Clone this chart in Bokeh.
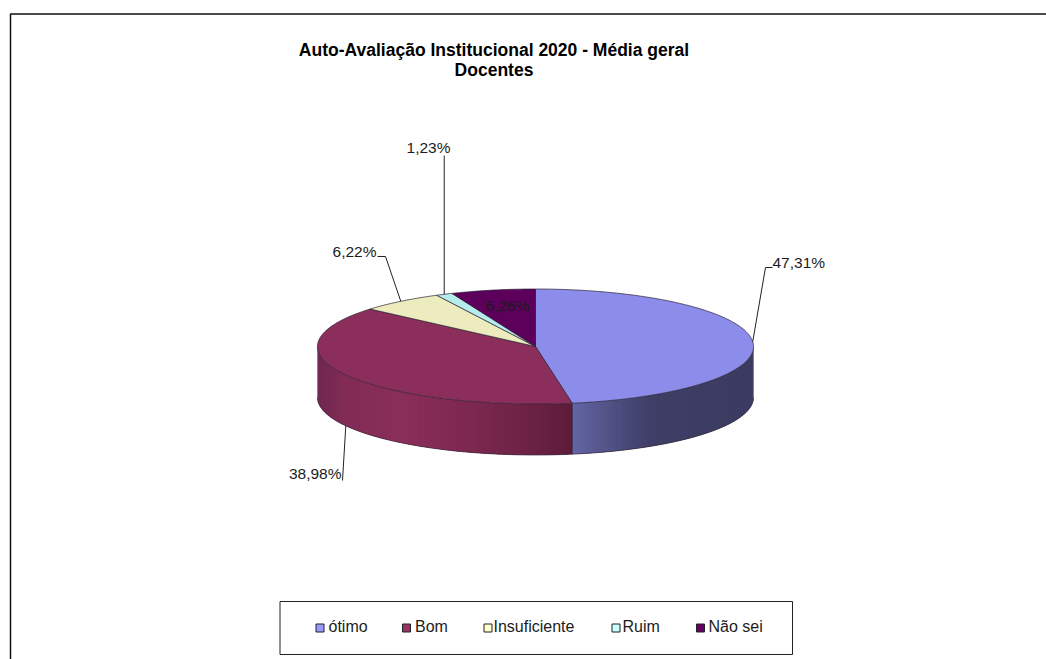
import math
from bokeh.plotting import figure
from bokeh.models import Range1d
from bokeh.core.properties import value
from bokeh.embed import file_html
from bokeh.resources import INLINE

# ---- data
categories = ["ótimo", "Bom", "Insuficiente", "Ruim", "Não sei"]
percentages = [47.31, 38.98, 6.22, 1.23, 6.26]
labels = ["47,31%", "38,98%", "6,22%", "1,23%", "6,26%"]
title_lines = ["Auto-Avaliação Institucional 2020 - Média geral", "Docentes"]

# ---- styles
top_colors = ["#8C8CEA", "#8B2E5B", "#ECECBE", "#B6ECEC", "#5C005C"]
legend_colors = ["#9999FF", "#993366", "#FFFFCC", "#CCFFFF", "#660066"]
FONT = value("Liberation Sans")
INK = "#1c1c1c"

# ---- layout (page pixels)
CX, CY, RX, RY, DEPTH = 535.0, 346.0, 218.0, 57.5, 51.0
W, H = 1046, 659

p = figure(width=W, height=H, output_backend="svg", toolbar_location=None,
           x_range=Range1d(0, W), y_range=Range1d(H, 0),
           min_border=0, outline_line_color=None)
p.axis.visible = False
p.grid.visible = False
p.background_fill_color = "white"
p.border_fill_color = "white"


def rim(theta, drop=0.0):
    t = math.radians(theta)
    return CX + RX * math.sin(t), CY - RY * math.cos(t) + drop


def lerp_color(stops, x):
    if x <= stops[0][0]:
        return stops[0][1]
    for (x0, c0), (x1, c1) in zip(stops, stops[1:]):
        if x <= x1:
            f = (x - x0) / (x1 - x0)
            return tuple(round(a + (b - a) * f) for a, b in zip(c0, c1))
    return stops[-1][1]


side_shades = [
    [(572, (100, 102, 165)), (600, (85, 86, 140)), (650, (62, 62, 102)), (753, (60, 60, 98))],
    [(317, (112, 40, 80)), (345, (130, 44, 86)), (400, (138, 46, 90)), (470, (125, 40, 80)),
     (530, (108, 34, 68)), (572, (92, 28, 58))],
]

# slice angles, clockwise from the top
total = sum(percentages)
edges = [0.0]
for v in percentages:
    edges.append(edges[-1] + v * 360.0 / total)
mids = [(a + b) / 2 for a, b in zip(edges, edges[1:])]

# side wall (front half of the ellipse); each strip overlaps the next to avoid seams
xs, ys, cs = [], [], []
for i in range(2):
    a0 = max(edges[i], 90.0)
    a1 = min(edges[i + 1], 270.0)
    n = max(2, int((a1 - a0) / 0.75))
    step = (a1 - a0) / n
    for k in range(n):
        ta = a0 + step * k
        tb = min(a1, ta + 2.5 * step)
        xa, ya = rim(ta)
        arc = [rim(ta + (tb - ta) * j / 3) for j in range(4)]
        xs.append([q[0] for q in arc] + [q[0] for q in reversed(arc)])
        ys.append([q[1] for q in arc] + [q[1] + DEPTH for q in reversed(arc)])
        r, g, b = lerp_color(side_shades[i], rim(ta + step / 2)[0])
        cs.append(f"#{r:02x}{g:02x}{b:02x}")
p.patches(xs, ys, fill_color=cs, line_color=None)

# side outlines
front = [90 + k for k in range(181)]
p.line([rim(t, DEPTH)[0] for t in front], [rim(t, DEPTH)[1] for t in front],
       line_color="#3a2a3a", line_width=0.7)
for t in (90, 270, edges[1]):
    x0, y0 = rim(t)
    col = "#8a8aa0" if t != edges[1] else "#2a2030"
    p.line([x0, x0], [y0, y0 + DEPTH], line_color=col, line_width=0.7)

# top faces
for i in range(len(percentages)):
    n = max(3, int((edges[i + 1] - edges[i]) / 1.0))
    thetas = [edges[i] + (edges[i + 1] - edges[i]) * k / n for k in range(n + 1)]
    px = [CX] + [rim(t)[0] for t in thetas]
    py = [CY] + [rim(t)[1] for t in thetas]
    p.patch(px, py, fill_color=top_colors[i], line_color="#2c2433", line_width=0.7)

# leader lines: start on the slice's rim, then the elbow (page pixels)
leaders = [
    (rim(mids[0]), [(765, 267), (772, 267)]),
    (rim(mids[1], DEPTH), [(342, 480)]),
    (rim(mids[2]), [(385, 256), (377, 256)]),
    (rim(mids[3]), [(rim(mids[3])[0], 155)]),
]
for start, rest in leaders:
    pts = [start] + rest
    p.line([q[0] for q in pts], [q[1] for q in pts], line_color="#222222", line_width=1)

# value labels
label_pos = [(772, 262, "left"), (341, 473, "right"), (376, 251, "right"), (450, 147, "right"), (529, 305, "right")]
for lab, (lx, ly, al) in zip(labels, label_pos):
    p.text([lx], [ly], text=[lab], text_font=FONT, text_font_size="15.5px", text_color=INK,
           text_align=al, text_baseline="middle")

# title
for line, ty in zip(title_lines, (49, 69)):
    p.text([493.5], [ty], text=[line], text_font=FONT, text_font_size="17.5px", text_font_style="bold",
           text_color="#000000", text_align="center", text_baseline="middle")

# chart frame
p.line([10, 10, W], [H, 13.5, 13.5], line_color="#111111", line_width=1.5)

# legend
p.quad(left=[279.5], right=[792], top=[601], bottom=[654], fill_color="white",
       line_color="#222222", line_width=1)
swatch_x = [319.5, 406, 487.5, 615.5, 700]
text_x = [328, 414.5, 493, 622, 708]
for name, col, sx, tx in zip(categories, legend_colors, swatch_x, text_x):
    p.rect([sx], [627.5], width=8, height=8, fill_color=col, line_color="#222222", line_width=1)
    p.text([tx], [626], text=[name], text_font=FONT, text_font_size="16px", text_color=INK,
           text_align="left", text_baseline="middle")

open("out.html", "w").write(file_html(p, INLINE))
